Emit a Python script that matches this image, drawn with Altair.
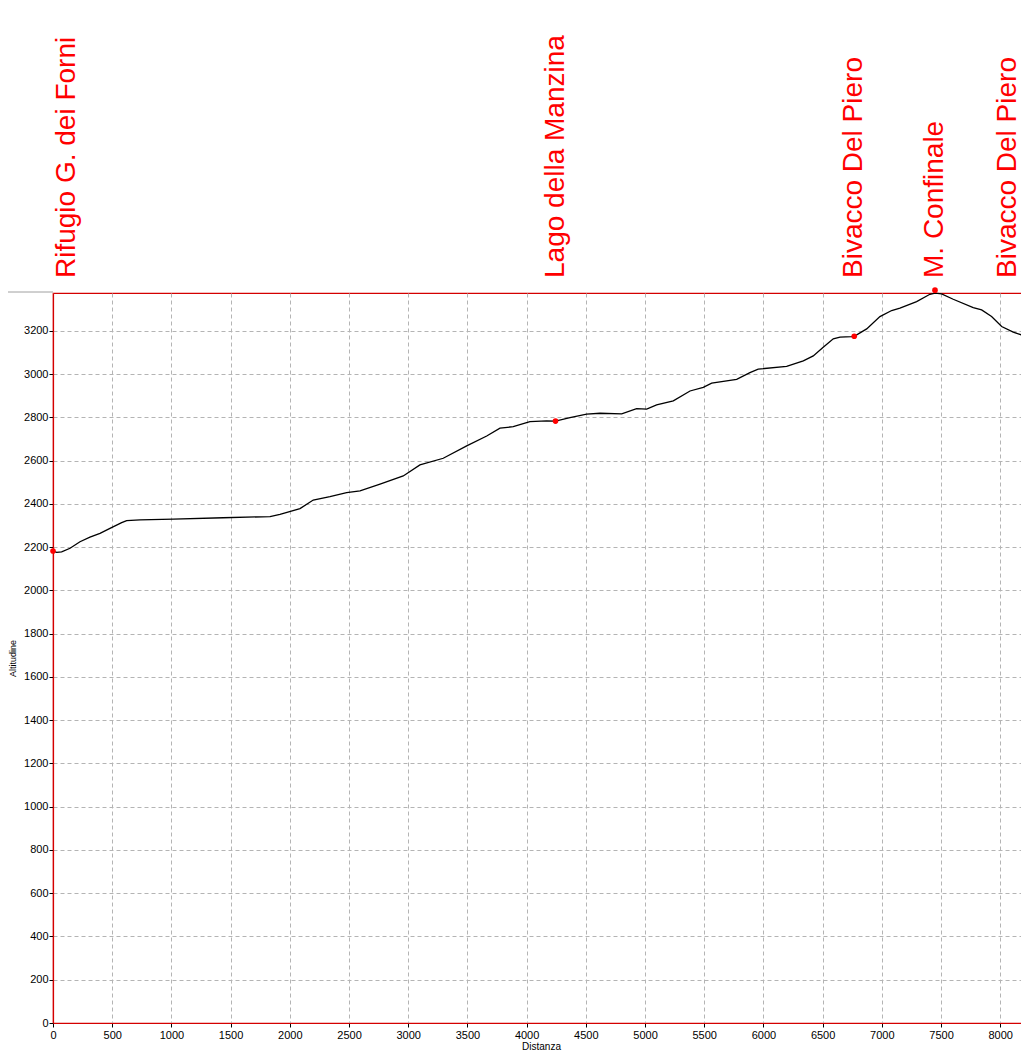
import altair as alt
import pandas as pd

# Elevation profile (distance in m, altitude in m)
dist = [0, 31, 73, 144, 228, 312, 397, 481, 580, 622, 735, 1016, 1436, 1833, 1917,
        2086, 2198, 2339, 2480, 2593, 2762, 2958, 3099, 3296, 3494, 3663, 3775, 3887,
        4028, 4169, 4244, 4366, 4507, 4620, 4803, 4929, 5014, 5098, 5239, 5380, 5492,
        5563, 5774, 5886, 5956, 6196, 6337, 6421, 6505, 6590, 6647, 6745, 6767, 6872,
        6984, 7083, 7153, 7294, 7406, 7449, 7505, 7603, 7772, 7843, 7927, 8012, 8110,
        8181, 8223]
altitude = [2182, 2176, 2178, 2195, 2225, 2246, 2264, 2287, 2313, 2323, 2326, 2330, 2336,
            2341, 2352, 2378, 2418, 2434, 2452, 2460, 2491, 2529, 2580, 2611, 2668, 2714,
            2750, 2757, 2780, 2784, 2783, 2799, 2815, 2819, 2816, 2840, 2838, 2858, 2876,
            2922, 2939, 2958, 2976, 3007, 3023, 3036, 3061, 3084, 3124, 3163, 3171, 3173,
            3175, 3209, 3266, 3294, 3305, 3335, 3369, 3374, 3371, 3346, 3307, 3297, 3266,
            3220, 3194, 3181, 3188]

# Waypoints
wp_names = ["Rifugio G. dei Forni", "Lago della Manzina", "Bivacco Del Piero",
            "M. Confinale", "Bivacco Del Piero"]
wp_dist = [0, 4244, 6767, 7449, 8223]
wp_alt = [2182, 2783, 3175, 3388, 3188]

x_ticks = list(range(0, 8001, 500))
y_ticks = list(range(0, 3301, 100))

profile = pd.DataFrame({"Distanza": dist, "Altitudine": altitude})
waypoints = pd.DataFrame({"name": wp_names, "Distanza": wp_dist, "Altitudine": wp_alt})
one = pd.DataFrame({"k": [0]})

RED = "#d40000"
FONT = "Liberation Sans"

xscale = alt.Scale(domain=[0, 8243], nice=False, zero=False)
yscale = alt.Scale(domain=[0, 3375], nice=False)

xaxis = alt.Axis(values=x_ticks, title="Distanza", format="d", labelFontSize=11,
                 titleFontSize=10, titleFontWeight="normal", labelFlush=False,
                 labelOverlap=False, titlePadding=1, labelPadding=2)
yaxis = alt.Axis(values=y_ticks, title="Altitudine", format="d", labelFontSize=11,
                 titleFontSize=9, titleFontWeight="normal", labelOverlap=False,
                 labelPadding=1, titlePadding=6)

line = alt.Chart(profile).mark_line(color="black", strokeWidth=1.3).encode(
    x=alt.X("Distanza:Q", scale=xscale, axis=xaxis),
    y=alt.Y("Altitudine:Q", scale=yscale, axis=yaxis),
)

points = alt.Chart(waypoints).mark_circle(color="#ff0000", size=32, opacity=1).encode(
    x=alt.X("Distanza:Q", scale=xscale),
    y=alt.Y("Altitudine:Q", scale=yscale),
)

labels = alt.Chart(waypoints).transform_calculate(
    lx="clamp(datum.Distanza, 118, 8065)"
).mark_text(angle=270, align="left", baseline="middle", fontSize=28,
            font=FONT, color="#ff0000").encode(
    x=alt.X("lx:Q", scale=xscale),
    y=alt.value(-15),
    text="name:N",
)

frame_top = alt.Chart(one).mark_rule(color="#a0a0a0", strokeWidth=1).encode(
    x=alt.value(-45), x2=alt.value(0), y=alt.value(-1))

chart = alt.layer(frame_top, line, points, labels).properties(
    width=976, height=730,
    padding={"left": 45, "top": 285, "right": -8, "bottom": 27},
    autosize=alt.AutoSizeParams(type="none"),
    background="white",
).configure_view(
    stroke=RED, strokeWidth=1.2
).configure_axis(
    grid=True, gridColor="#b4b4b4", gridDash=[4, 3], gridWidth=1,
    domain=True, domainColor=RED, domainWidth=1.2,
    tickColor="black", tickSize=4, tickWidth=1,
    labelFont=FONT, titleFont=FONT, labelColor="black", titleColor="black",
)

chart.save("out.html", embed_options={"renderer": "svg", "actions": False})
